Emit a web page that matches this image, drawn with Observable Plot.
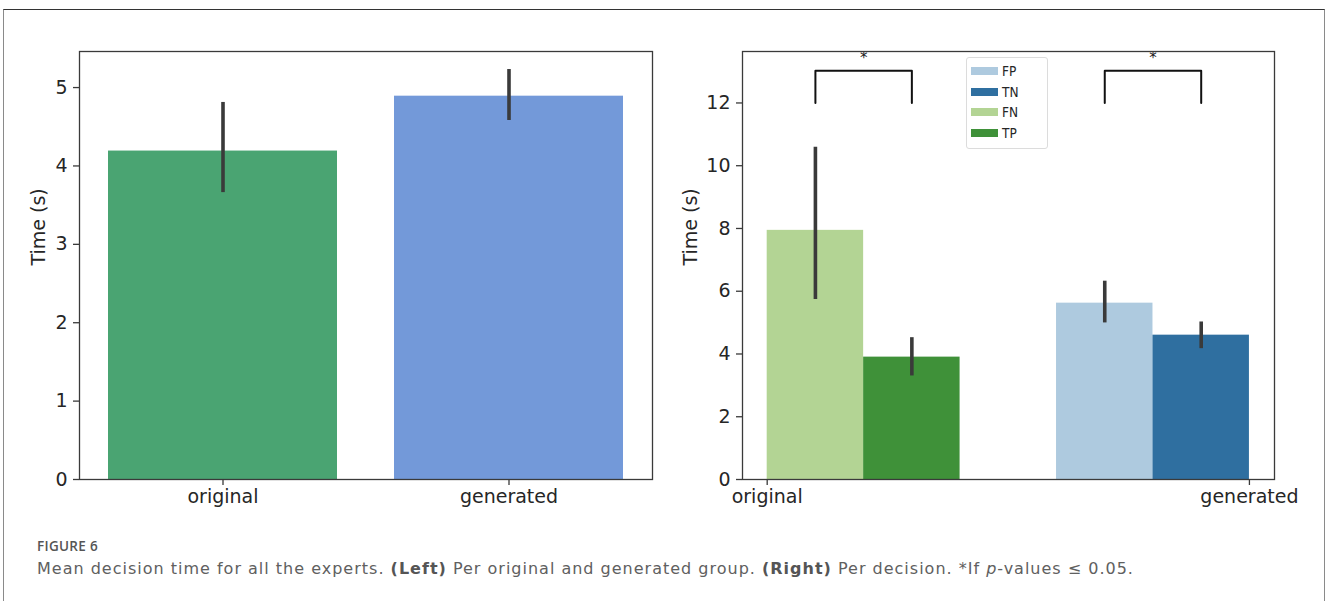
<!DOCTYPE html>
<html>
<head>
<meta charset="utf-8">
<script src="https://cdn.jsdelivr.net/npm/d3@7"></script>
<script src="https://cdn.jsdelivr.net/npm/@observablehq/plot@0.6"></script>
<style>
  html, body { margin: 0; padding: 0; background: #fff; }
  body { width: 1328px; height: 601px; overflow: hidden; position: relative; }
  #outer { position: absolute; left: 3px; top: 9px; width: 1322px; height: 640px;
           border-top: 1.5px solid #333; border-left: 1.5px solid #8a8a8a; border-right: 1.5px solid #8a8a8a; box-sizing: border-box; }
  #left { position: absolute; left: 0; top: 0; }
  #right { position: absolute; left: 664px; top: 0; }
  #legend { position: absolute; left: 966px; top: 57px; width: 82px; height: 92px; box-sizing: border-box;
            border: 1px solid #dcdcdc; border-radius: 3px; background: rgba(255,255,255,0.85);
            font-family: "DejaVu Sans Condensed", "Liberation Sans Narrow", "DejaVu Sans"; font-size: 13.5px; color: #262626; }
  .lrow { position: absolute; left: 4px; height: 12px; display: flex; align-items: center; }
  .lsw { width: 27px; height: 8px; margin-right: 4px; }
  #figlab { position: absolute; left: 37px; top: 540px; font-family: "Open Sans"; font-weight: 600;
            font-size: 13.5px; line-height: 13.5px; color: #555; letter-spacing: 0.3px; }
  #figtxt { position: absolute; left: 37px; top: 561px; font-family: "DejaVu Sans"; font-size: 16px;
            line-height: 16px; color: #606060; white-space: nowrap; letter-spacing: 1.0px; }
  #figtxt b { font-weight: 700; color: #555; }
</style>
</head>
<body>
<div id="outer"></div>
<div id="left"></div>
<div id="right"></div>
<div id="legend"></div>
<div id="figlab">FIGURE 6</div>
<div id="figtxt">Mean decision time for all the experts. <b>(Left)</b> Per original and generated group. <b>(Right)</b> Per decision. *If <i>p</i>-values ≤ 0.05.</div>
<script>
// ---------- Data ----------
// Left panel: per group
const groups = ["original", "generated"];
const groupMeans = [4.19, 4.89];
const groupLow = [3.66, 4.58];
const groupHigh = [4.81, 5.23];
const groupColors = ["#4aa472", "#7399d9"];
const leftTicks = [0, 1, 2, 3, 4, 5];

// Right panel: per decision (bar order within groups)
const decisions = ["FN", "TP", "FP", "TN"];
const decisionGroup = ["original", "original", "generated", "generated"];
const decisionMeans = [7.94, 3.90, 5.62, 4.60];
const decisionLow = [5.74, 3.30, 4.99, 4.17];
const decisionHigh = [10.59, 4.52, 6.32, 5.02];
const decisionColors = ["#b3d494", "#3f9139", "#aecadf", "#2f6fa0"];
const rightTicks = [0, 2, 4, 6, 8, 10, 12];
const legendOrder = ["FP", "TN", "FN", "TP"];

// Significance brackets
const sigPairs = [["FN", "TP"], ["FP", "TN"]];
const sigLow = 12;
const sigHigh = 13.03;
const sigLabel = "*";

const yLabel = "Time (s)";

// ---------- Left chart ----------
const leftData = groups.map((g, i) => ({group: g, mean: groupMeans[i], lo: groupLow[i], hi: groupHigh[i]}));
const font = "DejaVu Sans";
const ink = "#262626";
const spine = "#3a3a3a";

const leftPlot = Plot.plot({
  width: 664, height: 520,
  marginLeft: 79, marginRight: 12, marginTop: 51, marginBottom: 41,
  style: {fontFamily: font, fontSize: "19px", color: ink, background: "transparent"},
  x: {type: "band", domain: groups, paddingInner: 0.2, paddingOuter: 0.1},
  y: {domain: [0, 5.46]},
  color: {domain: groups, range: groupColors},
  marks: [
    Plot.barY(leftData, {x: "group", y: "mean", fill: "group"}),
    Plot.ruleX(leftData, {x: "group", y1: "lo", y2: "hi", stroke: spine, strokeWidth: 3.6}),
    Plot.frame({stroke: spine, strokeWidth: 1.3}),
    Plot.axisY({ticks: leftTicks, tickFormat: d => String(d), tickSize: 6, tickPadding: 6, fontSize: 19, label: null, stroke: spine, strokeWidth: 1.3}),
    Plot.axisX({tickSize: 6, tickPadding: 4, fontSize: 19, label: null, stroke: spine, strokeWidth: 1.3}),
    Plot.text([yLabel], {text: d => d, frameAnchor: "left", rotate: -90, dx: -41, fontSize: 19, fill: ink})
  ]
});
document.getElementById("left").appendChild(leftPlot);

// ---------- Right chart ----------
// slot layout: each group occupies (hue count + 1 gap) unit slots
const perGroup = decisions.length / groups.length;
const rightData = decisions.map((d, i) => {
  const g = groups.indexOf(decisionGroup[i]);
  const h = decisions.filter((_, j) => decisionGroup[j] === decisionGroup[i]).indexOf(d);
  const slot = g * (perGroup + 1) + h;
  return {decision: d, group: decisionGroup[i], mean: decisionMeans[i], lo: decisionLow[i], hi: decisionHigh[i], x1: slot, x2: slot + 1, xc: slot + 0.5};
});
const totalSlots = groups.length * (perGroup + 1) - 1;
const byDecision = Object.fromEntries(rightData.map(d => [d.decision, d]));
const bracketPts = [];
sigPairs.forEach((p, k) => {
  const a = byDecision[p[0]].xc, b = byDecision[p[1]].xc;
  bracketPts.push({k, x: a, y: sigLow}, {k, x: a, y: sigHigh}, {k, x: b, y: sigHigh}, {k, x: b, y: sigLow});
});
const stars = sigPairs.map(p => ({x: (byDecision[p[0]].xc + byDecision[p[1]].xc) / 2, label: sigLabel}));

const rightPlot = Plot.plot({
  width: 664, height: 520,
  marginLeft: 78, marginRight: 54, marginTop: 51, marginBottom: 41,
  style: {fontFamily: font, fontSize: "19px", color: ink, background: "transparent", overflow: "visible"},
  x: {domain: [-0.256, totalSlots + 0.26]},
  y: {domain: [0, 13.64]},
  color: {domain: decisions, range: decisionColors},
  marks: [
    Plot.rectY(rightData, {x1: "x1", x2: "x2", y: "mean", fill: "decision"}),
    Plot.ruleX(rightData, {x: "xc", y1: "lo", y2: "hi", stroke: spine, strokeWidth: 3.6}),
    Plot.line(bracketPts, {x: "x", y: "y", z: "k", stroke: "#111", strokeWidth: 2}),
    Plot.text(stars, {x: "x", y: 13.42, text: "label", fontSize: 15, fill: "#222"}),
    Plot.frame({stroke: spine, strokeWidth: 1.3}),
    Plot.axisY({ticks: rightTicks, tickFormat: d => String(d), tickSize: 6, tickPadding: 6, fontSize: 19, label: null, stroke: spine, strokeWidth: 1.3}),
    Plot.axisX({ticks: [0, totalSlots], tickFormat: d => d === 0 ? groups[0] : groups[1], tickSize: 6, tickPadding: 4, fontSize: 19, label: null, stroke: spine, strokeWidth: 1.3}),
    Plot.text([yLabel], {text: d => d, frameAnchor: "left", rotate: -90, dx: -52, fontSize: 19, fill: ink})
  ]
});
document.getElementById("right").appendChild(rightPlot);

// ---------- Legend ----------
const legend = document.getElementById("legend");
legendOrder.forEach((d, i) => {
  const row = document.createElement("div");
  row.className = "lrow";
  row.style.top = (7 + i * 20.7) + "px";
  const sw = document.createElement("div");
  sw.className = "lsw";
  sw.style.background = decisionColors[decisions.indexOf(d)];
  const lab = document.createElement("span");
  lab.textContent = d;
  row.appendChild(sw); row.appendChild(lab);
  legend.appendChild(row);
});
</script>
</body>
</html>
